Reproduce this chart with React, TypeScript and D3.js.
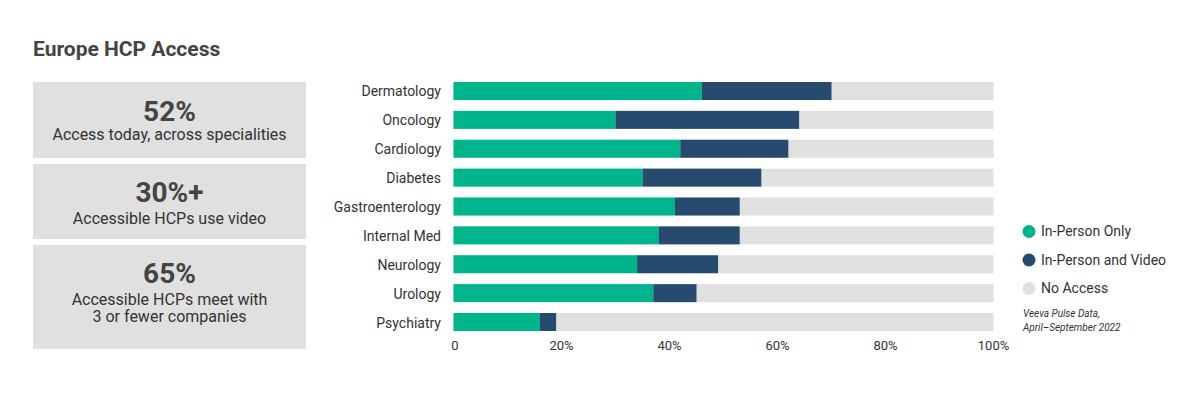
import React from "react";
import * as d3 from "d3";

const categories = ["Dermatology", "Oncology", "Cardiology", "Diabetes", "Gastroenterology", "Internal Med", "Neurology", "Urology", "Psychiatry"];
const inPersonOnly = [46, 30, 42, 35, 41, 38, 34, 37, 16];
const inPersonAndVideo = [24, 34, 20, 22, 12, 15, 15, 8, 3];
const seriesNames = ["In-Person Only", "In-Person and Video", "No Access"];
const xTicks = [0, 20, 40, 60, 80, 100];
const stats = [
  { big: "52%", lines: ["Access today, across specialities"] },
  { big: "30%+", lines: ["Accessible HCPs use video"] },
  { big: "65%", lines: ["Accessible HCPs meet with", "3 or fewer companies"] },
];
const title = "Europe HCP Access";
const sourceLines = ["Veeva Pulse Data,", "April\u2013September 2022"];

const COLORS = ["#00B48C", "#264B6E", "#E0E0E0"];
const FONT = "Roboto, 'Noto Sans', sans-serif";

export default function App() {
  const W = 1200, H = 400;
  const x = d3.scaleLinear().domain([0, 100]).range([453.5, 993.5]);
  const y = d3.scaleBand<string>().domain(categories).range([82, 331]).paddingInner(0.377).paddingOuter(0);
  const bw = y.bandwidth();

  const boxes = [
    { y0: 82, y1: 158, bigY: 120.5, subY: [140] },
    { y0: 164, y1: 239, bigY: 201.5, subY: [223.5] },
    { y0: 245, y1: 349, bigY: 283, subY: [305, 322] },
  ];

  return (
    <svg width={W} height={H} style={{ position: "absolute", left: 0, top: 0, background: "#fff" }} fontFamily={FONT}>
      <rect x={0} y={0} width={W} height={H} fill="#fff" />
      <text x={33} y={56} fontSize={21} fontWeight={700} fill="#444">{title}</text>

      {stats.map((s, i) => {
        const b = boxes[i];
        return (
          <g key={i}>
            <rect x={33} y={b.y0} width={273} height={b.y1 - b.y0} fill="#E0E0E0" />
            <text x={169.5} y={b.bigY} textAnchor="middle" fontSize={28} fontWeight={700} fill="#444">{s.big}</text>
            {s.lines.map((l, j) => (
              <text key={j} x={169.5} y={b.subY[j]} textAnchor="middle" fontSize={16} fill="#333">{l}</text>
            ))}
          </g>
        );
      })}

      {categories.map((c, i) => {
        const yy = y(c)!;
        const a = inPersonOnly[i];
        const b = inPersonAndVideo[i];
        return (
          <g key={c}>
            <rect x={x(0)} y={yy} width={x(100) - x(0)} height={bw} fill={COLORS[2]} />
            <rect x={x(0)} y={yy} width={x(a) - x(0)} height={bw} fill={COLORS[0]} />
            <rect x={x(a)} y={yy} width={x(a + b) - x(a)} height={bw} fill={COLORS[1]} />
            <text x={441} y={yy + bw / 2 + 5.5} textAnchor="end" fontSize={14} fill="#333">{c}</text>
          </g>
        );
      })}

      {xTicks.map((t) => (
        <text key={t} x={x(t) + (t === 0 ? 1.5 : 0)} y={349.5} textAnchor="middle" fontSize={13} fill="#333">
          {t === 0 ? "0" : `${t}%`}
        </text>
      ))}

      {seriesNames.map((n, i) => (
        <g key={n}>
          <circle cx={1029} cy={231.5 + i * 28.5} r={6.5} fill={COLORS[i]} />
          <text x={1041} y={231.5 + i * 28.5} dy="0.35em" fontSize={14} fill="#333">{n}</text>
        </g>
      ))}

      {sourceLines.map((l, i) => (
        <text key={i} x={1023} y={317 + i * 14} fontSize={10} fontStyle="italic" fill="#333">{l}</text>
      ))}
    </svg>
  );
}
